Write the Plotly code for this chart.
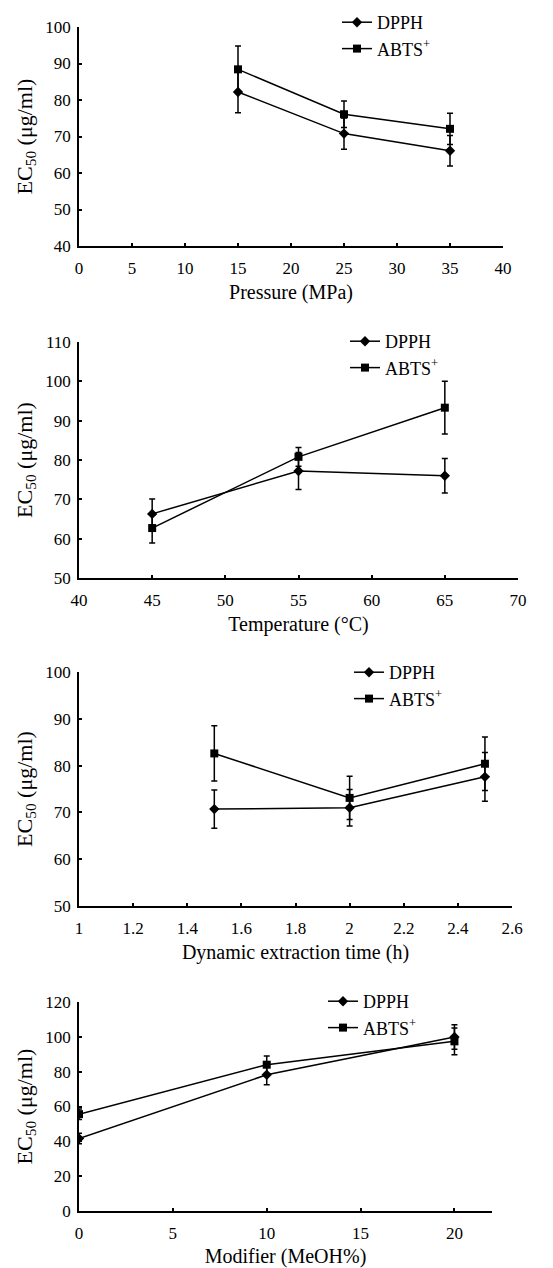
import plotly.graph_objects as go

# Panel 1: Pressure
p_x = [15, 25, 35]
p_dpph = [82.2, 70.8, 66.1]
p_dpph_err = [5.7, 4.3, 4.2]
p_abts = [88.4, 76.1, 72.1]
p_abts_err = [6.4, 3.6, 4.3]

# Panel 2: Temperature
t_x = [45, 55, 65]
t_dpph = [66.3, 77.2, 76.0]
t_dpph_err = [3.8, 4.7, 4.4]
t_abts = [62.7, 80.8, 93.3]
t_abts_err = [3.8, 2.4, 6.7]

# Panel 3: Dynamic extraction time
d_x = [1.5, 2.0, 2.5]
d_dpph = [70.7, 71.0, 77.6]
d_dpph_err = [4.1, 3.9, 5.2]
d_abts = [82.6, 73.1, 80.4]
d_abts_err = [5.9, 4.6, 5.7]

# Panel 4: Modifier
m_x = [0, 10, 20]
m_dpph = [41.6, 78.2, 99.9]
m_dpph_err = [3.0, 5.7, 7.0]
m_abts = [55.6, 84.0, 97.4]
m_abts_err = [3.0, 5.0, 7.7]

panels = [
    dict(x=p_x, d=p_dpph, de=p_dpph_err, a=p_abts, ae=p_abts_err,
         title="Pressure (MPa)", xr=[0, 40], xdt=5, yr=[40, 100], ydt=10,
         xd=[79, 503], yd=[27, 246], leg=[337, 4]),
    dict(x=t_x, d=t_dpph, de=t_dpph_err, a=t_abts, ae=t_abts_err,
         title="Temperature (°C)", xr=[40, 70], xdt=5, yr=[50, 110], ydt=10,
         xd=[79, 518], yd=[342, 578], leg=[345, 323]),
    dict(x=d_x, d=d_dpph, de=d_dpph_err, a=d_abts, ae=d_abts_err,
         title="Dynamic extraction time (h)", xr=[1, 2.6], xdt=0.2, yr=[50, 100], ydt=10,
         xd=[79, 512], yd=[672, 906], leg=[349, 654]),
    dict(x=m_x, d=m_dpph, de=m_dpph_err, a=m_abts, ae=m_abts_err,
         title="Modifier (MeOH%)", xr=[0, 22], xdt=5, yr=[0, 120], ydt=20,
         xd=[79, 492], yd=[1002, 1211], leg=[323, 983]),
]

W, H = 553, 1268
FONT = "Liberation Serif"
fig = go.Figure()
layout = {}
for i, p in enumerate(panels):
    n = i + 1
    sfx = "" if n == 1 else str(n)
    legname = "legend" if n == 1 else f"legend{n}"
    for name, ys, es, sym, size in [("DPPH", p["d"], p["de"], "diamond", 8),
                                    ("ABTS<sup>+</sup>", p["a"], p["ae"], "square", 8)]:
        fig.add_trace(go.Scatter(
            x=p["x"], y=ys, name=name, mode="lines+markers",
            line=dict(color="black", width=1.5),
            marker=dict(symbol=sym, size=size, color="black"),
            error_y=dict(type="data", array=es, visible=True, color="black",
                         thickness=1.5, width=3),
            xaxis="x" + sfx, yaxis="y" + sfx, legend=legname,
        ))
    axcommon = dict(showline=True, linecolor="black", linewidth=1.5,
                    ticks="inside", ticklen=3, tickcolor="black", tickwidth=1.5,
                    showgrid=False, zeroline=False, automargin=False,
                    tickfont=dict(family=FONT, size=17, color="black"))
    layout["xaxis" + sfx] = dict(
        axcommon, range=p["xr"], dtick=p["xdt"], tick0=p["xr"][0],
        domain=[p["xd"][0] / W, p["xd"][1] / W], anchor="y" + sfx,
        ticklabelstandoff=6,
        title=dict(text=p["title"], font=dict(family=FONT, size=20, color="black"), standoff=8),
    )
    layout["yaxis" + sfx] = dict(
        axcommon, range=p["yr"], dtick=p["ydt"], tick0=p["yr"][0],
        domain=[1 - p["yd"][1] / H, 1 - p["yd"][0] / H], anchor="x" + sfx,
        ticklabelstandoff=3,
        title=dict(text="EC<sub>50</sub> (μg/ml)", font=dict(family=FONT, size=22, color="black"), standoff=7),
    )
    layout[legname] = dict(
        x=p["leg"][0] / W, y=1 - p["leg"][1] / H, xanchor="left", yanchor="top",
        font=dict(family=FONT, size=18, color="black"), bgcolor="rgba(0,0,0,0)",
        tracegroupgap=0, itemwidth=30,
    )

fig.update_layout(**layout)
fig.update_layout(width=W, height=H, margin=dict(l=0, r=0, t=0, b=0),
                  paper_bgcolor="white", plot_bgcolor="white", showlegend=True)
fig.write_html("out.html", config={"displayModeBar": False},
               post_script="document.body.style.margin='0';")
